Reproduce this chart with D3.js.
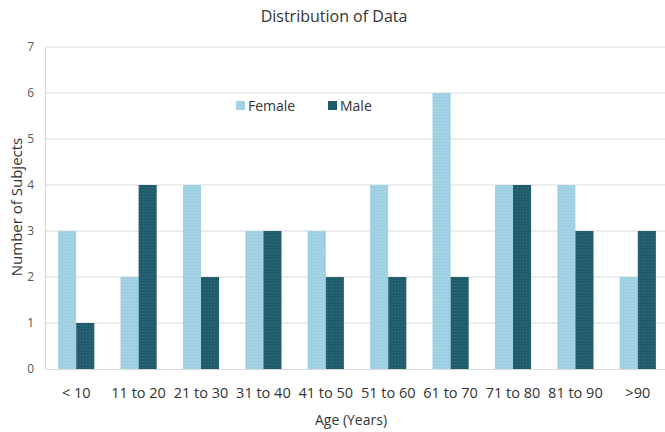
<!DOCTYPE html>
<html><head><meta charset="utf-8">
<script src="https://cdn.jsdelivr.net/npm/d3@7"></script>
<style>body{margin:0;background:#fff;}svg{display:block;font-family:"Open Sans",sans-serif;}</style>
</head><body><svg id="c" width="665" height="432"></svg>
<script>
const categories = ["< 10","11 to 20","21 to 30","31 to 40","41 to 50","51 to 60","61 to 70","71 to 80","81 to 90",">90"];
const female = [3,2,4,3,3,4,6,4,4,2];
const male = [1,4,2,3,2,2,2,4,3,3];
const seriesNames = ["Female","Male"];
const yTicks = [0,1,2,3,4,5,6,7];

const svg = d3.select("#c");
const m = {l:45, r:-4, t:47, b:63};
const W = 665, H = 432;
const defs = svg.append("defs");
function pat(id, bg, dot){
  const p = defs.append("pattern").attr("id",id).attr("patternUnits","userSpaceOnUse").attr("width",3).attr("height",3);
  p.append("rect").attr("width",3).attr("height",3).attr("fill",bg);
  p.append("rect").attr("x",1).attr("y",1).attr("width",1).attr("height",1).attr("fill",dot);
}
pat("pf","#a3d2e4","#8ec3d8");
pat("pm","#1f5b6a","#3b7785");
const fills = ["url(#pf)","url(#pm)"];

const x = d3.scaleBand().domain(categories).range([m.l, W - m.r]).paddingInner(0.42).paddingOuter(0.21);
const xs = d3.scaleBand().domain(seriesNames).range([0, x.bandwidth()]);
const y = d3.scaleLinear().domain([0,7]).range([H - m.b, m.t]);

// gridlines
svg.append("g").selectAll("line").data(yTicks.slice(1)).join("line")
  .attr("x1", m.l).attr("x2", W).attr("y1", d=>y(d)).attr("y2", d=>y(d))
  .attr("stroke","#d9d9d9").attr("stroke-width",1.2);

// y axis
const ya = svg.append("g").attr("transform",`translate(${m.l},0)`)
  .call(d3.axisLeft(y).tickValues(yTicks).tickFormat(d3.format("d")).tickSize(0).tickPadding(11));
ya.select(".domain").attr("stroke","#d9d9d9").attr("stroke-width",1.2);
ya.selectAll("text").attr("fill","#595959").style("font-size","12px").style("font-family","'Open Sans',sans-serif");

// bars
const data = categories.map((c,i)=>({c, vals:[female[i], male[i]]}));
const g = svg.append("g").selectAll("g").data(data).join("g").attr("transform",d=>`translate(${x(d.c)},0)`);
g.selectAll("rect").data(d=>d.vals.map((v,j)=>({v,s:seriesNames[j],j}))).join("rect")
  .attr("x",d=>xs(d.s)).attr("width",xs.bandwidth())
  .attr("y",d=>y(d.v)).attr("height",d=>y(0)-y(d.v))
  .attr("fill",d=>fills[d.j]);

// x axis
const xa = svg.append("g").attr("transform",`translate(0,${y(0)})`)
  .call(d3.axisBottom(x).tickSize(0).tickPadding(19));
xa.select(".domain").attr("stroke","#d9d9d9").attr("stroke-width",1.2);
xa.selectAll("text").attr("fill","#333").style("font-size","14.5px").style("font-family","'Open Sans',sans-serif");

// title
svg.append("text").attr("x",334).attr("y",22).attr("text-anchor","middle")
  .attr("fill","#333").style("font-size","16px").text("Distribution of Data");
// axis titles
svg.append("text").attr("transform","translate(22,207) rotate(-90)").attr("text-anchor","middle")
  .attr("fill","#333").style("font-size","15px").text("Number of Subjects");
svg.append("text").attr("x",351).attr("y",425).attr("text-anchor","middle")
  .attr("fill","#333").style("font-size","14px").text("Age (Years)");

// legend
const lg = svg.append("g").selectAll("g").data(seriesNames).join("g")
  .attr("transform",(d,i)=>`translate(${236 + i*92},101)`);
lg.append("rect").attr("width",9).attr("height",9).attr("fill",(d,i)=>i===0?"#a3d2e4":"#1f5b6a");
lg.append("text").attr("x",12).attr("y",9.5).attr("fill","#333").style("font-size","14px").text(d=>d);
</script></body></html>
